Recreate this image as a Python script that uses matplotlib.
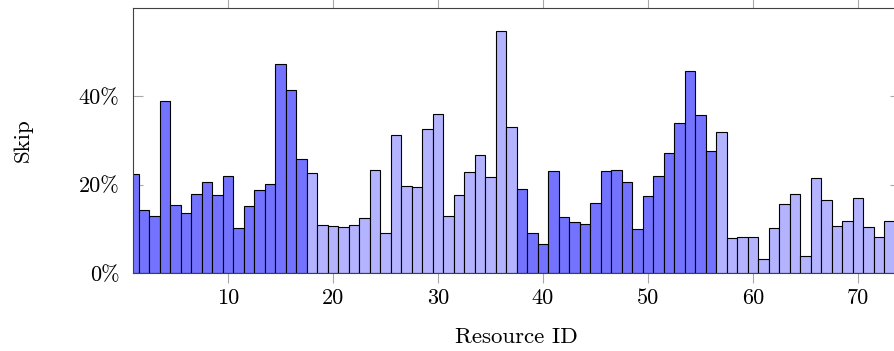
import matplotlib
matplotlib.use('Agg')
import matplotlib.pyplot as plt

resource_ids = list(range(1, 74))
skip_pct = [22.4, 14.3, 13.0, 38.9, 15.5, 13.6, 17.9, 20.5, 17.7, 21.9,
            10.2, 15.3, 18.8, 20.2, 47.3, 41.4, 25.7, 22.7, 10.9, 10.6,
            10.5, 11.0, 12.5, 23.3, 9.1, 31.3, 19.6, 19.5, 32.6, 36.0,
            13.0, 17.6, 22.8, 26.7, 21.8, 54.6, 33.1, 19.1, 9.1, 6.7,
            23.0, 12.8, 11.5, 11.1, 15.9, 23.2, 23.3, 20.5, 10.1, 17.5,
            21.9, 27.2, 34.0, 45.7, 35.8, 27.7, 31.8, 7.9, 8.1, 8.2,
            3.2, 10.2, 15.6, 17.9, 3.9, 21.4, 16.5, 10.6, 11.8, 17.1,
            10.5, 8.3, 11.8]
group = ['dark'] * 17 + ['light'] * 20 + ['dark'] * 19 + ['light'] * 17
group_colors = {'dark': '#7373FF', 'light': '#B3B3FF'}
xticks = [10, 20, 30, 40, 50, 60, 70]
yticks = [0, 20, 40]
ytick_labels = ['0%', '20%', '40%']

plt.rcParams['font.family'] = ['cmr10', 'DejaVu Serif']
plt.rcParams['mathtext.fontset'] = 'cm'

W, H = 895, 351
fig = plt.figure(figsize=(W / 100, H / 100), dpi=100)
left_px, right_px, bottom_px, top_px = 133.3, 900.0, 273.3, 7.5
ax = fig.add_axes([left_px / W, 1 - bottom_px / H,
                   (right_px - left_px) / W, (bottom_px - top_px) / H])

ax.bar(resource_ids, skip_pct, width=1.0,
       color=[group_colors[g] for g in group],
       edgecolor='black', linewidth=0.8, zorder=2)

ax.set_xlim(1, 74)
ax.set_ylim(0, 60)
ax.set_xticks(xticks)
ax.set_xticklabels([str(t) for t in xticks])
ax.set_yticks(yticks)
ax.set_yticklabels(ytick_labels)

for s in ax.spines.values():
    s.set_color('#404040')
    s.set_linewidth(0.8)
    s.set_zorder(3)

ax.tick_params(axis='x', direction='out', top=True, bottom=True,
               length=7, width=0.8, color='#a8a8a8', labelsize=16, pad=4)
ax.tick_params(axis='y', direction='in', left=True, right=True,
               length=7, width=0.8, color='#a8a8a8', labelsize=16, pad=10)

ax.set_xlabel('Resource ID', fontsize=16.5, labelpad=14)
ax.set_ylabel('Skip', fontsize=16.5, labelpad=33)

fig.savefig('out.png', dpi=100)
